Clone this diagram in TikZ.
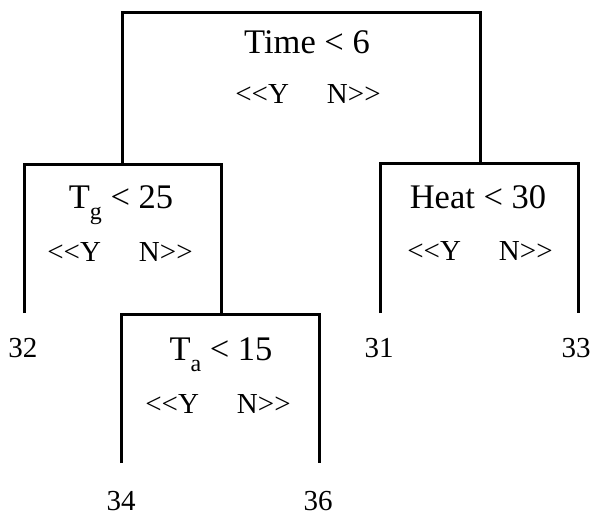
\documentclass[tikz,border=0pt]{standalone}
\usepackage{fontspec}
\setmainfont{Liberation Serif}
\usetikzlibrary{positioning}

\newcommand{\lowidx}[1]{\raisebox{-0.32em}{\fontsize{24}{24}\selectfont #1}}
\newcommand{\yesno}{\textless\kern0pt\textless\kern0pt Y\hspace{38pt}N\kern0pt\textgreater\kern0pt\textgreater}

\begin{document}
\begin{tikzpicture}[
    x=1pt, y=-1pt,
    branch/.style={draw=black, line width=3pt, line join=miter},
    cond/.style={font=\fontsize{34.5}{40}\selectfont, inner sep=0pt, anchor=base},
    ynlabel/.style={font=\fontsize{29}{32}\selectfont, inner sep=0pt, anchor=base},
    leaf/.style={font=\fontsize{29}{32}\selectfont, inner sep=0pt, anchor=base}
]
  \useasboundingbox (0,0) rectangle (590,515);

  % ---------------- split points ----------------
  \coordinate (time-l) at (122,12);
  \coordinate (time-r) at (480,12);
  \coordinate (tg-l)   at (24,164);
  \coordinate (tg-r)   at (221,164);
  \coordinate (tg-m)   at (122,164);
  \coordinate (heat-l) at (380,163);
  \coordinate (heat-r) at (578,163);
  \coordinate (heat-m) at (480,163);
  \coordinate (ta-l)   at (121,314);
  \coordinate (ta-r)   at (319,314);
  \coordinate (ta-m)   at (221,314);

  % leg ends
  \coordinate (tg-yes)   at (24,313);
  \coordinate (heat-yes) at (380,313);
  \coordinate (heat-no)  at (578,313);
  \coordinate (ta-yes)   at (121,463);
  \coordinate (ta-no)    at (319,463);

  % ---------------- conditions ----------------
  \node[cond] (time) at (307,53) {Time < 6};
  \node[ynlabel] (time-yn) at (308,103) {\yesno};

  \node[cond] (tg) at (121,208) {T\lowidx{g} < 25};
  \node[ynlabel] (tg-yn) at (120,261) {\yesno};

  \node[cond] (heat) at (478,208) {Heat < 30};
  \node[ynlabel] (heat-yn) at (480,260) {\yesno};

  \node[cond] (ta) at (221,360) {T\lowidx{a} < 15};
  \node[ynlabel] (ta-yn) at (218,413) {\yesno};

  % ---------------- leaves ----------------
  \node[leaf] (l32) at (23,357) {32};
  \node[leaf] (l31) at (379,357) {31};
  \node[leaf] (l33) at (576,357) {33};
  \node[leaf] (l34) at (121,510) {34};
  \node[leaf] (l36) at (318,510) {36};

  % ---------------- branches ----------------
  \draw[branch] (tg-m) -- (time-l) -- (time-r) -- (heat-m);
  \draw[branch] (tg-yes) -- (tg-l) -- (tg-r) -- (ta-m);
  \draw[branch] (heat-yes) -- (heat-l) -- (heat-r) -- (heat-no);
  \draw[branch] (ta-yes) -- (ta-l) -- (ta-r) -- (ta-no);

\end{tikzpicture}
\end{document}
